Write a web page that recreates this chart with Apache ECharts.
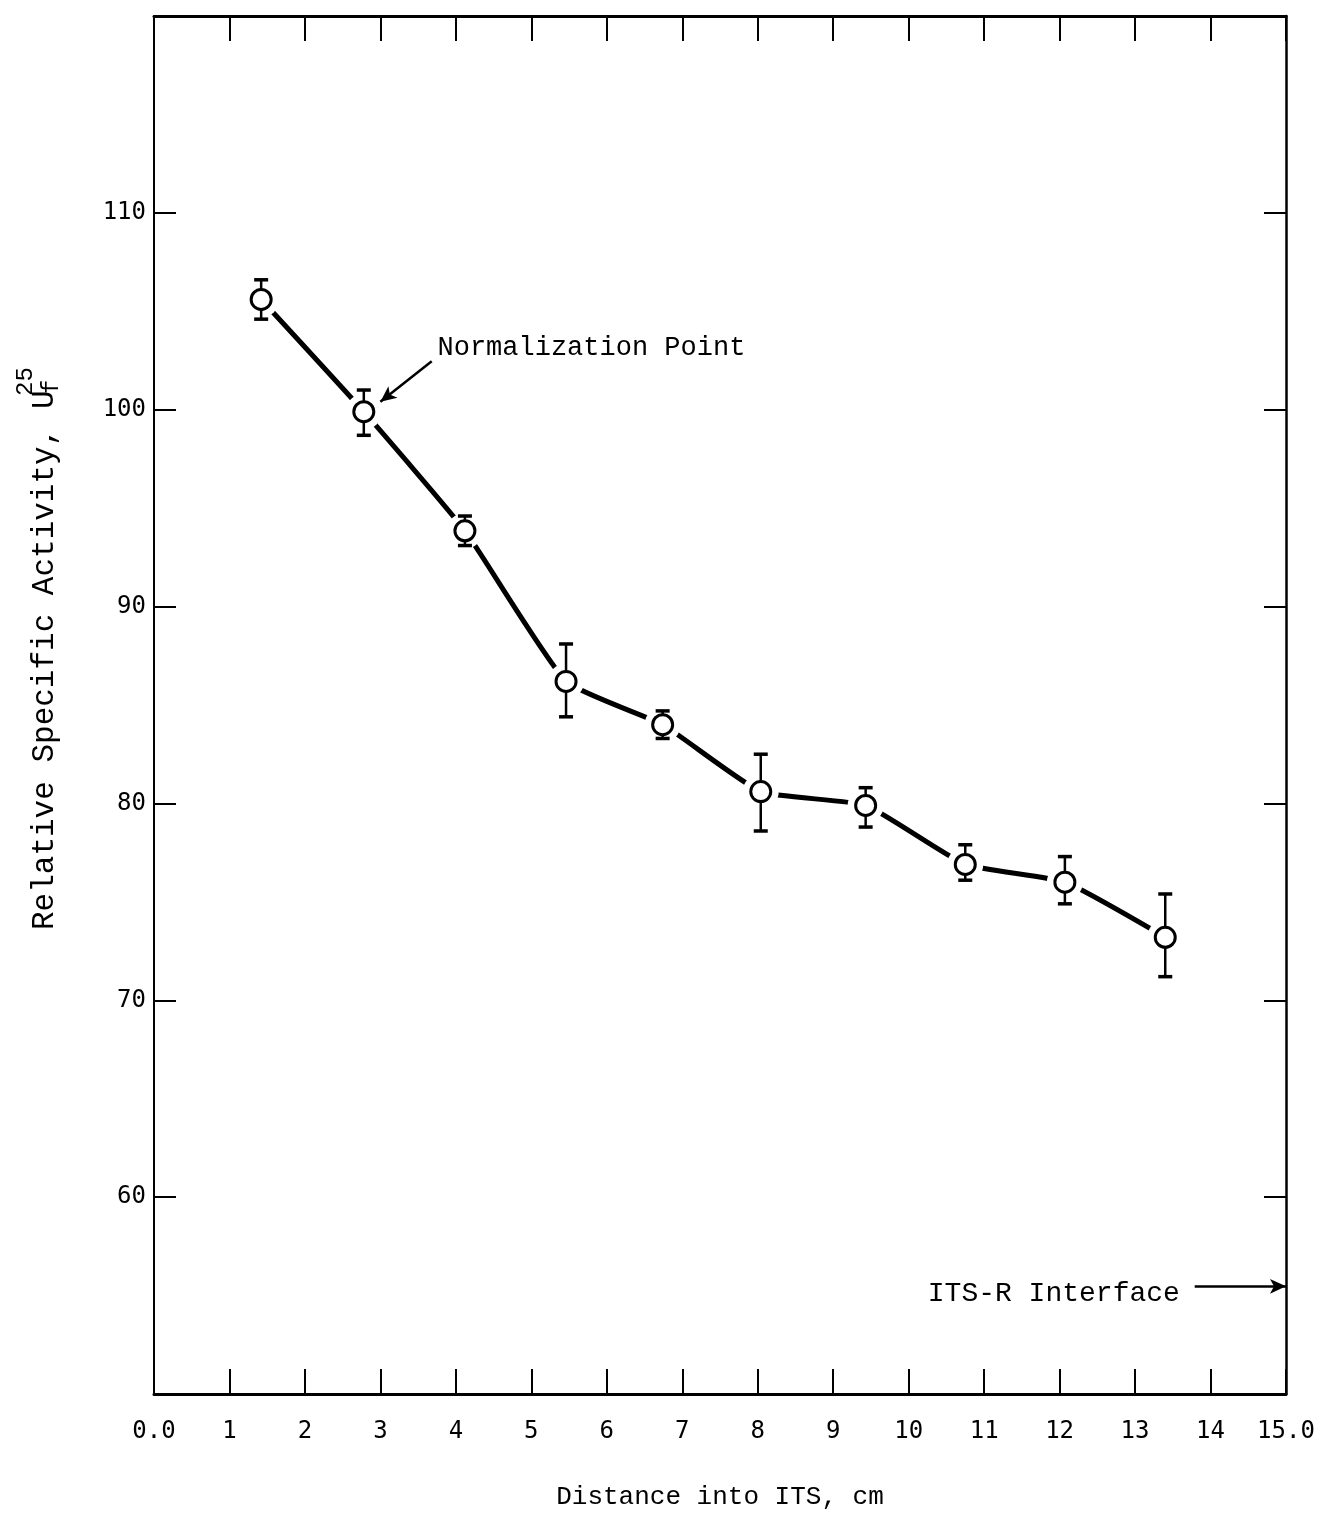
<!DOCTYPE html>
<html>
<head>
<meta charset="utf-8">
<script src="https://cdn.jsdelivr.net/npm/echarts@6/dist/echarts.min.js"></script>
<style>
  html, body { margin: 0; padding: 0; background: #fff; }
  #chart { width: 1334px; height: 1515px; }
</style>
</head>
<body>
<div id="chart"></div>
<script>
// Distance into ITS (cm) for each measured foil
var distance = [1.42, 2.78, 4.12, 5.46, 6.74, 8.04, 9.43, 10.75, 12.07, 13.40];
// Relative specific activity of U-25 fission
var activity = [105.6, 99.9, 93.85, 86.2, 84.0, 80.6, 79.9, 76.9, 76.0, 73.2];
// Error bar limits
var errLow  = [104.6, 98.7, 93.1, 84.4, 83.3, 78.6, 78.8, 76.1, 74.9, 71.2];
var errHigh = [106.6, 101.0, 94.6, 88.1, 84.7, 82.5, 80.8, 77.9, 77.3, 75.4];
// Axis ranges
var xMin = 0, xMax = 15, xStep = 1;
var yMin = 50, yMax = 120, yStep = 10;
var yLabelValues = [60, 70, 80, 90, 100, 110];

var points = distance.map(function (d, i) { return [d, activity[i]]; });
var bars = distance.map(function (d, i) { return [d, errLow[i], errHigh[i]]; });

var monoFont = '"Liberation Mono", "DejaVu Sans Mono", monospace';
var tickFont = '"DejaVu Sans Mono", "Liberation Mono", monospace';

var chart = echarts.init(document.getElementById('chart'), null, { renderer: 'canvas' });

function xAxisCfg(pos, showLabels) {
  return {
    type: 'value', position: pos, min: xMin, max: xMax, interval: xStep,
    axisLine: { show: true, onZero: false, lineStyle: { color: '#000', width: 3 } },
    axisTick: { show: true, inside: true, length: 25, lineStyle: { color: '#000', width: 2 } },
    splitLine: { show: false },
    axisLabel: {
      show: showLabels, margin: 26, color: '#000', fontSize: 24, fontFamily: tickFont,
      formatter: function (v) { return (v === xMin || v === xMax) ? v.toFixed(1) : String(v); }
    },
    name: showLabels ? 'Distance into ITS, cm' : '',
    nameLocation: 'middle', nameGap: 90,
    nameTextStyle: { color: '#000', fontSize: 26, fontFamily: monoFont }
  };
}

function yAxisCfg(pos, showLabels) {
  return {
    type: 'value', position: pos, min: yMin, max: yMax, interval: yStep,
    axisLine: { show: true, onZero: false, lineStyle: { color: '#000', width: pos === 'left' ? 2 : 2.5 } },
    axisTick: { show: true, inside: true, length: 22, lineStyle: { color: '#000', width: 2 } },
    splitLine: { show: false },
    axisLabel: {
      show: showLabels, margin: 8, color: '#000', fontSize: 24, fontFamily: tickFont,
      formatter: function (v) { return yLabelValues.indexOf(v) >= 0 ? String(v) : ''; }
    }
  };
}

var option = {
  backgroundColor: '#fff',
  animation: false,
  grid: { left: 154, right: 48, top: 16, bottom: 117, containLabel: false },
  xAxis: [xAxisCfg('bottom', true), xAxisCfg('top', false)],
  yAxis: [yAxisCfg('left', true), yAxisCfg('right', false)],
  series: [
    {
      // hand-fitted trend curve
      type: 'line', data: points, smooth: 0.15, symbol: 'none', z: 1,
      lineStyle: { color: '#000', width: 5 },
      markLine: {
        silent: true, symbol: ['none', 'arrow'], symbolSize: [11, 16],
        lineStyle: { color: '#000', width: 2.5, type: 'solid' },
        label: { show: false },
        data: [
          [{ coord: [3.68, 102.46] }, { coord: [3.0, 100.4] }],
          [{ coord: [13.79, 55.47] }, { coord: [15.0, 55.47] }]
        ]
      },
      markPoint: {
        silent: true, symbol: 'circle', symbolSize: 1,
        itemStyle: { color: 'rgba(0,0,0,0)' },
        data: [
          { coord: [3.75, 103.16], value: 'Normalization Point',
            label: { show: true, position: 'right', distance: 0, color: '#000', fontSize: 27, fontFamily: monoFont, formatter: '{c}' } },
          { coord: [13.6, 55.1], value: 'ITS-R Interface',
            label: { show: true, position: 'left', distance: 0, color: '#000', fontSize: 28, fontFamily: monoFont, formatter: '{c}' } }
        ]
      }
    },
    {
      // white clearance around each marker
      type: 'scatter', data: points, symbol: 'circle', symbolSize: 36, z: 2,
      itemStyle: { color: '#fff', opacity: 1 }, silent: true
    },
    {
      type: 'custom', data: bars, z: 3, silent: true,
      renderItem: function (params, api) {
        var x = api.value(0);
        var pLo = api.coord([x, api.value(1)]);
        var pHi = api.coord([x, api.value(2)]);
        var cap = 7;
        return {
          type: 'group',
          children: [
            { type: 'line', shape: { x1: pLo[0], y1: pLo[1], x2: pHi[0], y2: pHi[1] }, style: { stroke: '#000', lineWidth: 2.5 } },
            { type: 'line', shape: { x1: pLo[0] - cap, y1: pLo[1], x2: pLo[0] + cap, y2: pLo[1] }, style: { stroke: '#000', lineWidth: 3.5 } },
            { type: 'line', shape: { x1: pHi[0] - cap, y1: pHi[1], x2: pHi[0] + cap, y2: pHi[1] }, style: { stroke: '#000', lineWidth: 3.5 } }
          ]
        };
      }
    },
    {
      type: 'scatter', data: points, symbol: 'circle', symbolSize: 20, z: 4,
      itemStyle: { color: '#fff', borderColor: '#000', borderWidth: 3, opacity: 1 }
    }
  ],
  graphic: [
    {
      type: 'text', x: 45, y: 930, rotation: Math.PI / 2,
      style: { text: 'Relative Specific Activity, U', fill: '#000', font: '31px ' + monoFont, textAlign: 'left', textVerticalAlign: 'middle' }
    },
    {
      type: 'text', x: 26, y: 396, rotation: Math.PI / 2,
      style: { text: '25', fill: '#000', font: '24px ' + monoFont, textAlign: 'left', textVerticalAlign: 'middle' }
    },
    {
      type: 'text', x: 52, y: 394, rotation: Math.PI / 2,
      style: { text: 'f', fill: '#000', font: '24px ' + monoFont, textAlign: 'left', textVerticalAlign: 'middle' }
    }
  ]
};

chart.setOption(option);
</script>
</body>
</html>
